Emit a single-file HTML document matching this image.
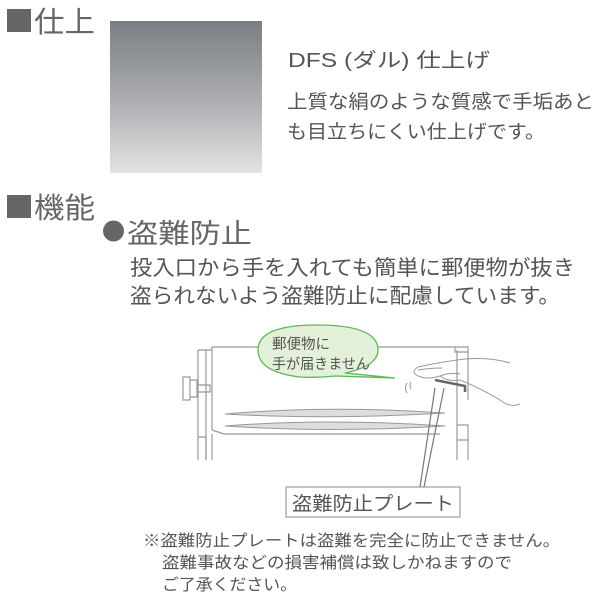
<!DOCTYPE html>
<html><head><meta charset="utf-8"><style>
html,body{margin:0;padding:0;background:#fff}
svg{display:block}
text{font-family:"Liberation Sans","Noto Sans CJK JP",sans-serif;fill:#555}
</style></head><body>
<svg width="600" height="600" viewBox="0 0 600 600" xmlns="http://www.w3.org/2000/svg">
<defs>
<linearGradient id="g" x1="0" y1="0" x2="0" y2="1">
<stop offset="0" stop-color="#7b7e83"/><stop offset="0.5" stop-color="#a9abae"/><stop offset="1" stop-color="#e2e3e4"/>
</linearGradient>
</defs>
<rect x="7" y="9" width="24" height="23" fill="#666"/>
<text x="34" y="32" font-size="29" textLength="61" lengthAdjust="spacingAndGlyphs" style="fill:#666">仕上</text>
<rect x="110" y="21" width="152" height="152" fill="url(#g)"/>
<text x="288" y="67" font-size="20" textLength="202" lengthAdjust="spacingAndGlyphs">DFS (ダル) 仕上げ</text>
<text x="287" y="108" font-size="19" textLength="307" lengthAdjust="spacingAndGlyphs">上質な絹のような質感で手垢あと</text>
<text x="287" y="138" font-size="19" textLength="258" lengthAdjust="spacingAndGlyphs">も目立ちにくい仕上げです。</text>
<rect x="7" y="195" width="24" height="23" fill="#666"/>
<text x="34" y="218" font-size="29" textLength="61" lengthAdjust="spacingAndGlyphs" style="fill:#666">機能</text>
<circle cx="113.5" cy="231" r="10.5" fill="#666"/>
<text x="127" y="243" font-size="27" textLength="125" lengthAdjust="spacingAndGlyphs" style="fill:#666">盗難防止</text>
<text x="130" y="275" font-size="21" textLength="445" lengthAdjust="spacingAndGlyphs">投入口から手を入れても簡単に郵便物が抜き</text>
<text x="130" y="303" font-size="21" textLength="430" lengthAdjust="spacingAndGlyphs">盗られないよう盗難防止に配慮しています。</text>

<g fill="none" stroke="#999" stroke-width="1.2">
<path d="M198,350 V460 M206,350 V460 M198,350 H212 M212,347 V430 M212,347 H455 M455,347 V352 H468 V347 H455"/>
<path d="M198,437 H206 M212,434 V460 M206,437 V460"/>
<path d="M183,377 H190 V400 H183 Z M190,380 H197 V397 H190 M197,385 H210 V392 H197"/>
<path d="M212,430 L224,434 H440 M457,350 V460 M468,352 V400 M457,425 H468 V440 H457 M468,440 V460"/>
</g>
<path d="M225,414 Q330,405 445,413 Q330,420 225,414 Z" fill="#ddd" stroke="#999"/>
<path d="M225,426 Q330,418 445,426 Q330,433 225,426 Z" fill="#ddd" stroke="#999"/>
<path d="M435,380 L465,386 V392" fill="none" stroke="#666" stroke-width="2.5"/>
<path d="M510,363 Q490,357 465,359 Q440,362 418,367 Q410,372 418,376 Q428,380 440,376 Q448,382 460,380 Q480,388 500,400 Q510,408 520,404" fill="none" stroke="#999" stroke-width="1"/>
<path d="M418,370 Q430,368 442,368 M440,376 Q450,372 460,374" fill="none" stroke="#999"/>
<path d="M407,383 q-3,5 0,10 M411,382 q-2,4 0,7" fill="none" stroke="#999"/>
<path d="M258,350 Q258,325 317,325 Q378,325 378,350 Q378,366 345,373 L395,378 L335,376 Q317,378 300,377 Q258,372 258,350 Z" fill="#e2f1d8" stroke="#5cb85c" stroke-width="1.3"/>
<text x="272" y="349" font-size="14.5">郵便物に</text>
<text x="272" y="369" font-size="14.5" textLength="98" lengthAdjust="spacingAndGlyphs">手が届きません</text>
<path d="M444,388 L424,487 M435,388 L420,487" fill="none" stroke="#777" stroke-width="1.2"/>
<rect x="286" y="487" width="174" height="30" fill="#fff" stroke="#888"/>
<text x="292" y="510" font-size="19" textLength="162" lengthAdjust="spacingAndGlyphs">盗難防止プレート</text>

<text x="143" y="546" font-size="16" textLength="417" lengthAdjust="spacingAndGlyphs">※盗難防止プレートは盗難を完全に防止できません。</text>
<text x="162" y="568" font-size="16" textLength="350" lengthAdjust="spacingAndGlyphs">盗難事故などの損害補償は致しかねますので</text>
<text x="162" y="590" font-size="16" textLength="135" lengthAdjust="spacingAndGlyphs">ご了承ください。</text>
</svg>
</body></html>
